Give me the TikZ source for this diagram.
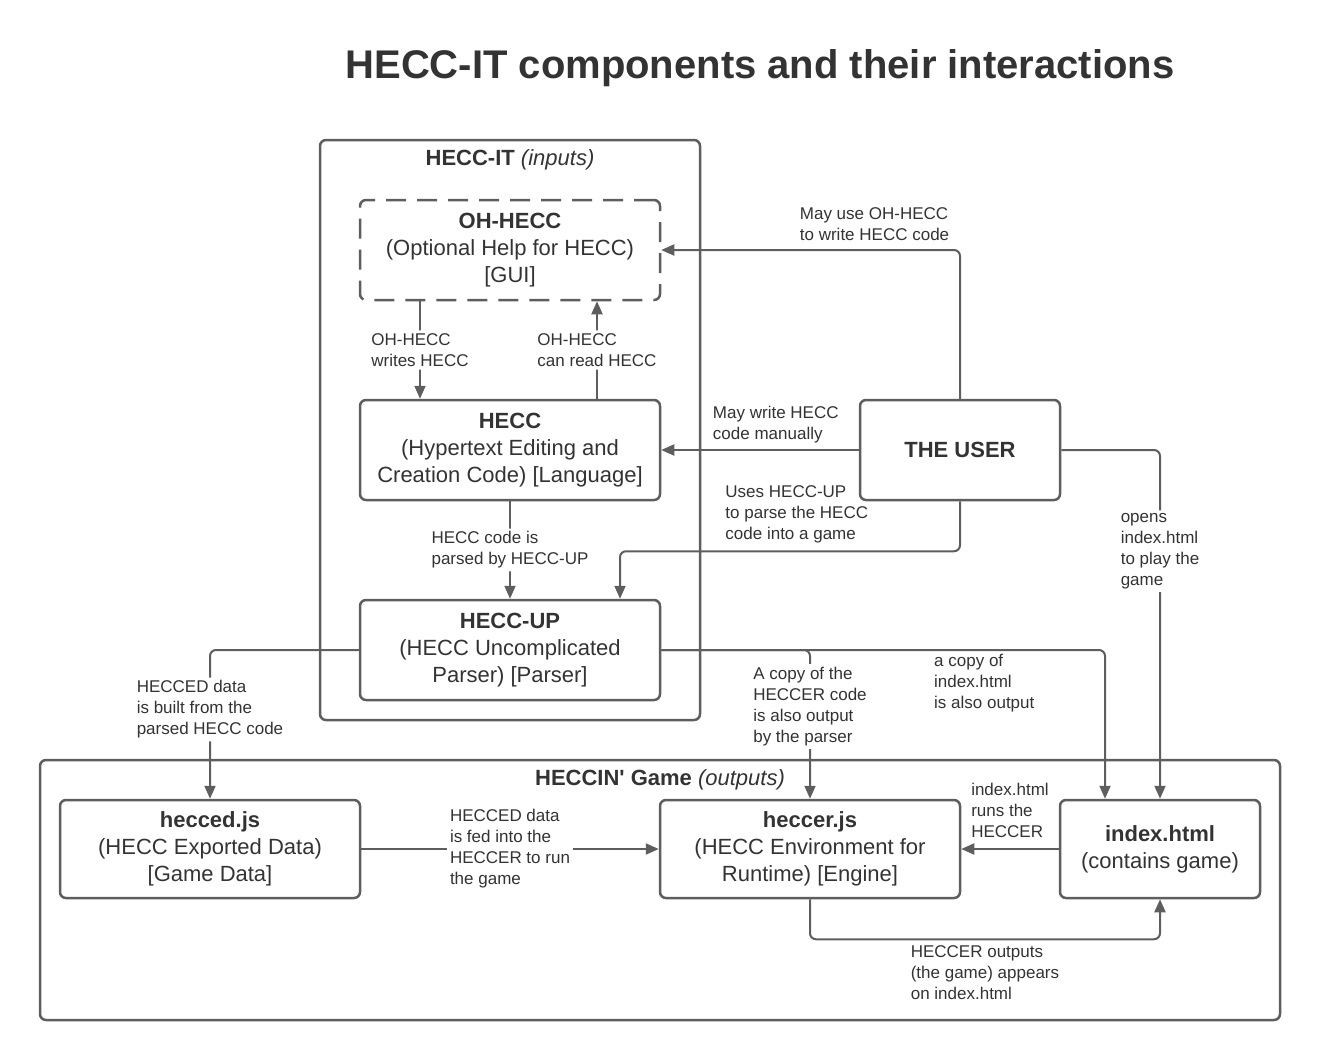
\documentclass[tikz,border=0pt]{standalone}
\usepackage{fontspec}
\setmainfont{Liberation Sans}
\usetikzlibrary{positioning}
\usetikzlibrary{arrows.meta}
\definecolor{linegray}{HTML}{5E5E5E}
\definecolor{textgray}{HTML}{333333}
\tikzset{x=1pt, y=-1pt,
    every node/.style={
        text=textgray},
    box/.style={
        draw=linegray,
        line width=2.5pt,
        rounded corners=6pt,
        minimum width=300pt,
        minimum height=100pt,
        align=center,
        font=\fontsize{22}{27}\selectfont},
    ghostbox/.style={
        box,
        dash pattern=on 20pt off 11pt},
    container/.style={
        draw=linegray,
        line width=2.5pt,
        rounded corners=6pt},
    grouptitle/.style={
        font=\fontsize{22}{27}\selectfont},
    lbl/.style={
        align=left,
        inner sep=3pt,
        font=\fontsize{17}{21}\selectfont},
    lblcut/.style={
        lbl,
        fill=white},
    conn/.style={
        draw=linegray,
        line width=2pt,
        rounded corners=6pt,
        -{Triangle[width=11pt,length=13pt]}}}

\begin{document}
\begin{tikzpicture}[node distance=200pt]
    \useasboundingbox (0,0) rectangle (1320,1060);

    \node[font=\fontsize{40}{48}\selectfont\bfseries] (title) at (760,68) {HECC-IT components and their interactions};

    % containers
    \node[container, minimum width=380pt, minimum height=580pt] (hitbox) at (510,430) {};
    \node[grouptitle] (hittitle) at ([yshift=-21pt]hitbox.north) {\textbf{HECC-IT} \textit{(inputs)}};
    \node[container, minimum width=1240pt, minimum height=260pt] (gamebox) at (660,890) {};
    \node[grouptitle] (gametitle) at ([yshift=-21pt]gamebox.north) {\textbf{HECCIN\textquotesingle\ Game} \textit{(outputs)}};

    % inputs
    \node[box] (hecc) at (510,450) {\textbf{HECC}\\(Hypertext Editing and\\Creation Code) [Language]};
    \node[ghostbox, above of=hecc] (ohhecc) {\textbf{OH-HECC}\\(Optional Help for HECC)\\{[GUI]}};
    \node[box, below of=hecc] (hecup) {\textbf{HECC-UP}\\(HECC Uncomplicated\\Parser) [Parser]};
    \node[box, minimum width=200pt, right of=hecc, node distance=450pt] (user) {\textbf{THE USER}};

    % outputs
    \node[box, minimum height=98pt] (heccer) at (810,849) {\textbf{heccer.js}\\(HECC Environment for\\Runtime) [Engine]};
    \node[box, minimum height=98pt, left of=heccer, node distance=600pt] (hecced) {\textbf{hecced.js}\\(HECC Exported Data)\\{[Game Data]}};
    \node[box, minimum height=98pt, minimum width=200pt, right of=heccer, node distance=350pt] (index) {\textbf{index.html}\\(contains game)};

    % connectors
    \draw[conn] ([xshift=-90pt]ohhecc.south) -- node[lblcut] {OH-HECC\\writes HECC} ([xshift=-90pt]hecc.north);
    \draw[conn] ([xshift=87pt]hecc.north) -- node[lblcut] {OH-HECC\\can read HECC} ([xshift=87pt]ohhecc.south);
    \draw[conn] (user.north) |- node[lbl, above, pos=0.643, yshift=5pt] {May use OH-HECC\\to write HECC code} (ohhecc.east);
    \draw[conn] (user.west) -- node[lbl, above, pos=0.42, yshift=3pt] {May write HECC\\code manually} (hecc.east);
    \draw[conn] (user.south) -- ++(0,50) -| node[lbl, above, pos=0.24, yshift=4pt] {Uses HECC-UP\\to parse the HECC\\code into a game} ([xshift=110pt]hecup.north);
    \draw[conn] (user.east) -| node[lblcut, pos=0.645] {opens\\index.html\\to play the\\game} (index.north);
    \draw[conn] (hecc.south) -- node[lblcut] {HECC code is\\parsed by HECC-UP} (hecup.north);
    \draw[conn] (hecup.west) -| node[lblcut, pos=0.7] {HECCED data\\is built from the\\parsed HECC code} (hecced.north);
    \draw[conn] (hecup.east) -| node[lblcut, pos=0.69] {A copy of the\\HECCER code\\is also output\\by the parser} (heccer.north);
    \draw[conn] (hecup.east) -| node[lbl, below, pos=0.364] {a copy of\\index.html\\is also output} ([xshift=-55pt]index.north);
    \draw[conn] (hecced.east) -- node[lblcut] {HECCED data\\is fed into the\\HECCER to run\\the game} (heccer.west);
    \draw[conn] (index.west) -- node[lbl, above, yshift=7pt] {index.html\\runs the\\HECCER} (heccer.east);
    \draw[conn] (heccer.south) -- ++(0,40) -| node[lbl, below, pos=0.25, yshift=-2pt] {HECCER outputs\\(the game) appears\\on index.html} (index.south);
\end{tikzpicture}
\end{document}
